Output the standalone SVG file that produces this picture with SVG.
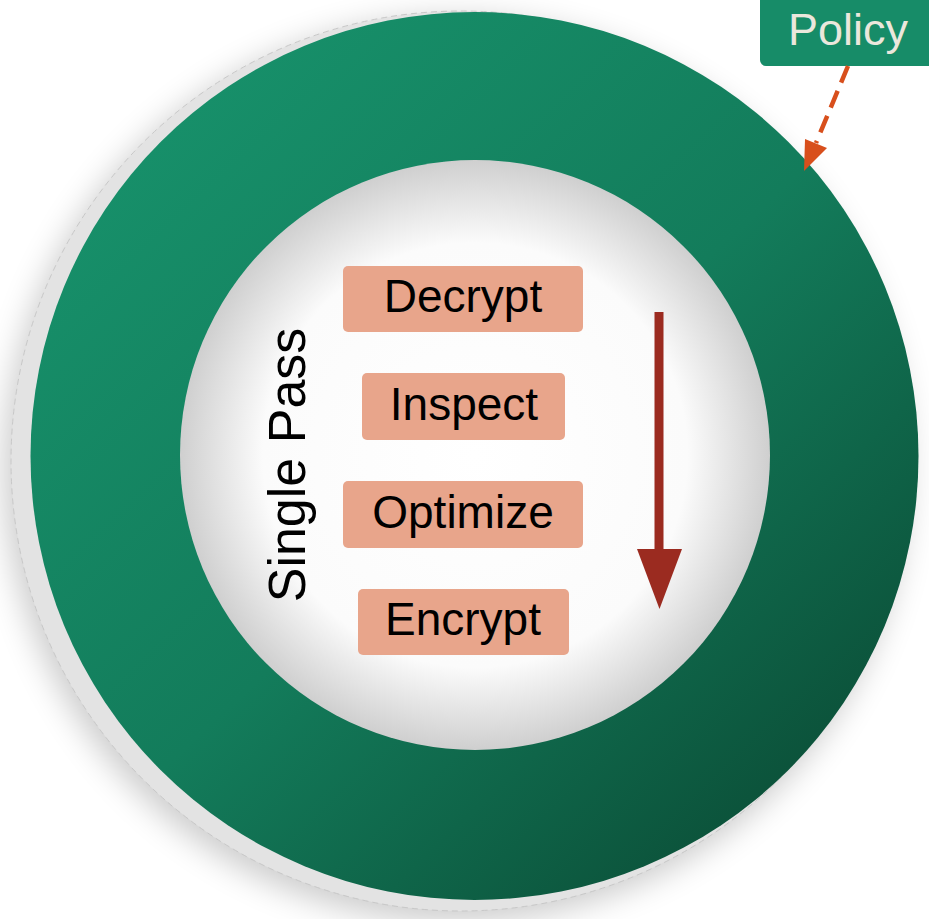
<svg xmlns="http://www.w3.org/2000/svg" width="929" height="919" viewBox="0 0 929 919">
<defs>
<linearGradient id="ringGrad" x1="0.15" y1="0.1" x2="0.9" y2="0.9">
<stop offset="0" stop-color="#17906a"/>
<stop offset="0.5" stop-color="#137c5b"/>
<stop offset="1" stop-color="#0b4e37"/>
</linearGradient>
<radialGradient id="innerGrad" cx="0.5" cy="0.5" r="0.5">
<stop offset="0" stop-color="#ffffff"/>
<stop offset="0.72" stop-color="#fbfbfb"/>
<stop offset="1" stop-color="#cfcfcf"/>
</radialGradient>
<filter id="shadow" x="-20%" y="-20%" width="140%" height="140%">
<feGaussianBlur stdDeviation="16"/>
</filter>
<style>
.box{fill:#e8a58b;}
.lbl{font-family:"Liberation Sans",Arial,sans-serif;font-size:46px;fill:#000;text-anchor:middle;}
</style>
</defs>
<rect width="929" height="919" fill="#ffffff"/>
<g id="ring">
<circle cx="456" cy="470" r="452" fill="#000" opacity="0.2" filter="url(#shadow)"/>
<circle cx="461" cy="461" r="450" fill="#e3e3e3" stroke="#c8c8c8" stroke-width="1" stroke-dasharray="6 4"/>
<circle cx="474.5" cy="456" r="444" fill="url(#ringGrad)"/>
<circle cx="475" cy="455" r="295" fill="url(#innerGrad)"/>
</g>
<g id="single-pass">
<text class="lbl" style="font-size:52px" transform="translate(305,465) rotate(-90)">Single Pass</text>
</g>
<g id="decrypt">
<rect class="box" x="343" y="266" width="240" height="66" rx="5"/>
<text class="lbl" x="463" y="312">Decrypt</text>
</g>
<g id="inspect">
<rect class="box" x="362" y="373" width="203" height="67" rx="5"/>
<text class="lbl" x="464" y="420">Inspect</text>
</g>
<g id="optimize">
<rect class="box" x="343" y="481" width="240" height="67" rx="5"/>
<text class="lbl" x="463" y="528">Optimize</text>
</g>
<g id="encrypt">
<rect class="box" x="358" y="589" width="211" height="66" rx="5"/>
<text class="lbl" x="463" y="635">Encrypt</text>
</g>
<g id="policy">
<rect x="760" y="-8" width="180" height="74" rx="6" fill="#178c68"/>
<text x="848" y="45" font-family="'Liberation Sans',Arial,sans-serif" font-size="45" fill="#ebe7dc" text-anchor="middle">Policy</text>
</g>
<g id="connectors">
<path d="M659,312 L659,552" stroke="#9b2b20" stroke-width="9" fill="none"/>
<path d="M637,549 L682,549 L659.5,609 z" fill="#9b2b20"/>
<path d="M848,66 L816,143" stroke="#d84f1c" stroke-width="4.5" stroke-dasharray="18 9" fill="none"/>
<path d="M804,171 L805,139 L827,148 z" fill="#d84f1c"/>
</g>
</svg>
